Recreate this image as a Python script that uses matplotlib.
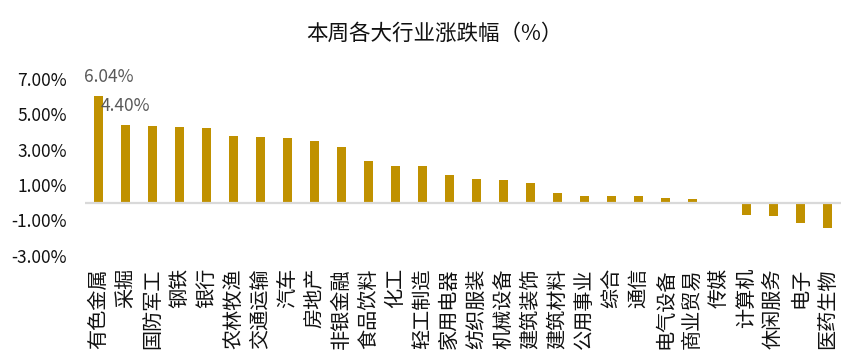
import matplotlib
matplotlib.use("Agg")
import matplotlib.pyplot as plt

plt.rcParams['font.family'] = ['Noto Sans CJK SC', 'DejaVu Sans']

categories = ["有色金属", "采掘", "国防军工", "钢铁", "银行", "农林牧渔", "交通运输", "汽车",
              "房地产", "非银金融", "食品饮料", "化工", "轻工制造", "家用电器", "纺织服装",
              "机械设备", "建筑装饰", "建筑材料", "公用事业", "综合", "通信", "电气设备",
              "商业贸易", "传媒", "计算机", "休闲服务", "电子", "医药生物"]
values = [6.04, 4.40, 4.32, 4.26, 4.21, 3.76, 3.70, 3.64, 3.47, 3.14, 2.35, 2.06, 2.06,
          1.55, 1.33, 1.27, 1.10, 0.54, 0.37, 0.37, 0.37, 0.25, 0.20, 0.0, -0.70, -0.75,
          -1.14, -1.42]
yticks = [-3, -1, 1, 3, 5, 7]
labelled = {0: "6.04%", 1: "4.40%"}

fig = plt.figure(figsize=(8.64, 3.58), dpi=100)
ax = fig.add_axes([0.0984, 0.286, 0.875, 0.494])

x = list(range(len(categories)))
ax.bar(x, values, width=0.33, color="#C09100", zorder=2)
ax.axhline(0, color="#D9D9D9", linewidth=1.6, zorder=3)

ax.set_xlim(-0.5, len(categories) - 0.5)
ax.set_ylim(-3, 7)
ax.set_yticks(yticks)
ax.set_yticklabels([f"{v:.2f}%" for v in yticks], fontsize=12.5, color="#111111")
ax.set_xticks(x)
ax.set_xticklabels(categories, rotation=90, fontsize=14.5, color="#111111", va="top", ha="center")
ax.tick_params(axis="both", length=0)
ax.tick_params(axis="y", pad=13)
ax.tick_params(axis="x", pad=9)
for s in ax.spines.values():
    s.set_visible(False)

for i, txt in labelled.items():
    dx = 10 if i == 0 else 0
    ax.annotate(txt, (x[i], values[i]), xytext=(dx, 19), textcoords="offset pixels",
                ha="center", va="center", fontsize=12.5, color="#595959")

fig.text(0.503, 0.905, "本周各大行业涨跌幅（%）", ha="center", va="center",
         fontsize=15.5, color="#111111")

fig.savefig("out.png", dpi=100)
